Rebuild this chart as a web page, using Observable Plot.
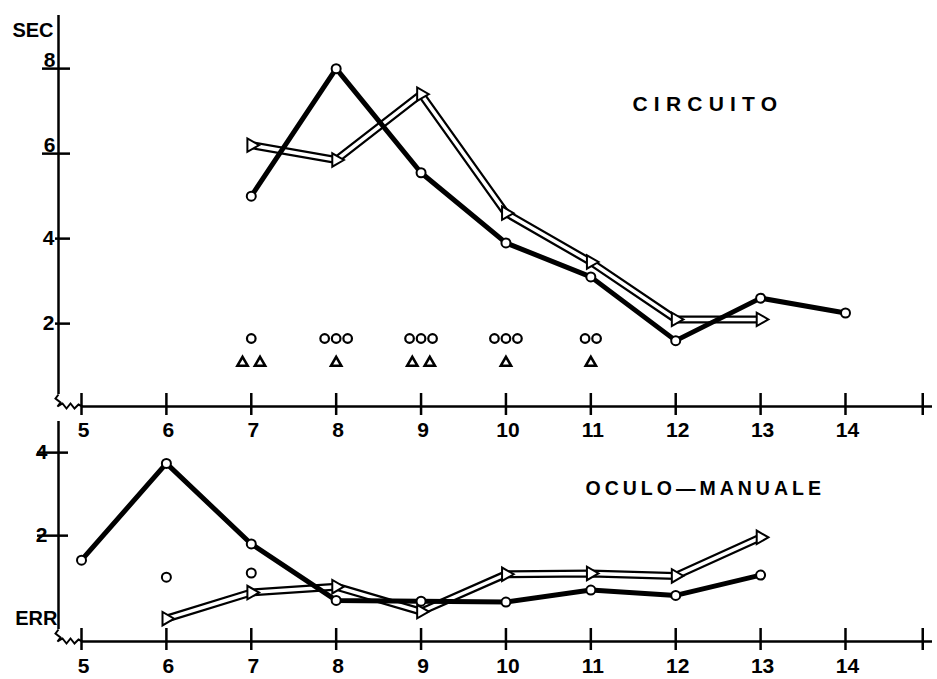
<!DOCTYPE html>
<html><head><meta charset="utf-8">
<script src="https://cdn.jsdelivr.net/npm/d3@7"></script>
<script src="https://cdn.jsdelivr.net/npm/@observablehq/plot@0.6"></script>
<style>
body{margin:0;background:#fff;}
#wrap{position:relative;width:937px;height:679px;font-family:"Liberation Sans",Arial,sans-serif;}
#top,#bottom{position:absolute;left:0;}
#top{top:0;} #bottom{top:415px;}
</style></head><body><div id="wrap"><div id="top"></div><div id="bottom"></div></div>
<script>
// ---- data ----
const xLabels = [5,6,7,8,9,10,11,12,13,14];
const xEndTick = 14.91;
const xDomain = [4.729, 15.025];

const secTicksLong = [6,8];
const secTicksShort = [2,4];
const secDomain = [0.05, 9.25];
const errTicks = [2,4];
const errDomain = [-0.55, 4.75];

// CIRCUITO (SEC)
const circAgesA = [7,8,9,10,11,12,13,14];
const circValuesA = [5.0,8.0,5.55,3.9,3.1,1.6,2.6,2.25];
const circAgesB = [7,8,9,10,11,12,13];
const circValuesB = [6.2,5.85,7.4,4.6,3.45,2.1,2.1];
const outlierAges = [7,8,9,10,11];
const outlierCircleCounts = [1,3,3,3,2];
const outlierTriangleCounts = [2,1,2,1,1];
const outlierCircleLevel = 1.65;
const outlierTriangleLevel = 1.08;

// OCULO-MANUALE (ERR)
const ocAgesA = [5,6,7,8,9,10,11,12,13];
const ocValuesA = [1.41,3.74,1.8,0.44,0.42,0.4,0.69,0.56,1.05];
const ocAgesB = [6,7,8,9,10,11,12,13];
const ocValuesB = [0.0,0.63,0.77,0.17,1.07,1.09,1.03,1.96];
const ocSingleAges = [6,7];
const ocSingleValues = [1.0,1.1];

// ---- build ----
const W = 937;
const mL = 58, mR = 5;
const pxPerX = (W - mL - mR) / (xDomain[1] - xDomain[0]);
const zip = (xs, ys) => xs.map((x, i) => ({x, y: ys[i]}));
function spread(ages, counts, level, px) {
  const out = [];
  ages.forEach((a, j) => {
    const n = counts[j];
    for (let i = 0; i < n; i++) out.push({x: a + (i - (n - 1) / 2) * px / pxPerX, y: level});
  });
  return out;
}
const breakMark = {draw(ctx) {
  ctx.moveTo(0, -12); ctx.lineTo(-3, -8); ctx.lineTo(2, -4); ctx.lineTo(-1, 0);
  ctx.lineTo(4, -3); ctx.lineTo(8, 2); ctx.lineTo(12, -3); ctx.lineTo(16, 2); ctx.lineTo(20, -2); ctx.lineTo(24, 0);
}};
const font = {fontSize: 21, fontWeight: "bold"};
const style = {fontFamily: '"Liberation Sans", Arial, sans-serif', fontWeight: "bold", fontSize: "21px", background: "transparent", overflow: "visible", color: "black"};

function frameMarks(yDom, pad) {
  return [
    Plot.ruleX([xDomain[0]], {stroke: "black", strokeWidth: 2.5, insetBottom: 12}),
    Plot.ruleY([yDom[0]], {x1: xLabels[0], x2: xDomain[1], stroke: "black", strokeWidth: 2.5}),
    Plot.dot([{x: xDomain[0], y: yDom[0]}], {x: "x", y: "y", symbol: breakMark, fill: "none", stroke: "black", strokeWidth: 2}),
    Plot.axisX([...xLabels, xEndTick], {tickSize: 22, dy: -13, strokeWidth: 2.5, tickFormat: () => "", label: null}),
    Plot.axisX(xLabels, {tickSize: 0, tickPadding: pad, dx: 2, ...font, label: null})
  ];
}
function seriesB(data) {
  return [
    Plot.line(data, {x: "x", y: "y", stroke: "black", strokeWidth: 8, strokeLinejoin: "miter"}),
    Plot.line(data, {x: "x", y: "y", stroke: "white", strokeWidth: 3.5, strokeLinejoin: "miter"}),
    Plot.dot(data, {x: "x", y: "y", symbol: "triangle", rotate: 90, r: 5, fill: "white", stroke: "black", strokeWidth: 2})
  ];
}
function seriesA(data) {
  return [
    Plot.line(data, {x: "x", y: "y", stroke: "black", strokeWidth: 5}),
    Plot.dot(data, {x: "x", y: "y", r: 4.5, fill: "white", stroke: "black", strokeWidth: 2})
  ];
}

const topPlot = Plot.plot({
  width: W, height: 440, marginLeft: mL, marginRight: mR, marginTop: 15, marginBottom: 34,
  style,
  x: {domain: xDomain, label: null},
  y: {domain: secDomain, label: null},
  marks: [
    ...frameMarks(secDomain, 16),
    Plot.axisY(secTicksLong, {tickSize: 28, dx: 12, strokeWidth: 2.5, tickFormat: () => "", label: null}),
    Plot.axisY(secTicksShort, {tickSize: 15, dx: 12, strokeWidth: 2.5, tickFormat: () => "", label: null}),
    Plot.axisY(secTicksLong, {tickSize: 0, tickPadding: 3, dy: -8, ...font, label: null}),
    Plot.axisY(secTicksShort, {tickSize: 0, tickPadding: 4, ...font, label: null}),
    Plot.text(["SEC"], {frameAnchor: "top-left", dx: -5, dy: 7, textAnchor: "end", fontSize: 20, fontWeight: "bold"}),
    Plot.text(["CIRCUITO"], {frameAnchor: "top-left", dx: 574, dy: 81, textAnchor: "start", fontSize: 21, fontWeight: "bold"}),
    ...seriesB(zip(circAgesB, circValuesB)),
    ...seriesA(zip(circAgesA, circValuesA)),
    Plot.dot(spread(outlierAges, outlierCircleCounts, outlierCircleLevel, 11.5), {x: "x", y: "y", r: 4.3, fill: "white", stroke: "black", strokeWidth: 2.2}),
    Plot.dot(spread(outlierAges, outlierTriangleCounts, outlierTriangleLevel, 17.5), {x: "x", y: "y", symbol: "triangle", r: 3.8, fill: "white", stroke: "black", strokeWidth: 2.6})
  ]
});

const bottomPlot = Plot.plot({
  width: W, height: 264, marginLeft: mL, marginRight: mR, marginTop: 6, marginBottom: 38,
  style,
  x: {domain: xDomain, label: null},
  y: {domain: errDomain, label: null},
  marks: [
    ...frameMarks(errDomain, 17),
    Plot.axisY(errTicks, {tickSize: 31, dx: 10, strokeWidth: 2.5, tickFormat: () => "", label: null}),
    Plot.axisY(errTicks, {tickSize: 0, tickPadding: 11, ...font, label: null}),
    Plot.text(["ERR"], {x: () => xDomain[0], y: () => 0, dx: -1, textAnchor: "end", fontSize: 20, fontWeight: "bold"}),
    Plot.text(["OCULO\u2014MANUALE"], {frameAnchor: "top-left", dx: 527, dy: 60, textAnchor: "start", fontSize: 19.5, fontWeight: "bold"}),
    ...seriesB(zip(ocAgesB, ocValuesB)),
    ...seriesA(zip(ocAgesA, ocValuesA)),
    Plot.dot(zip(ocSingleAges, ocSingleValues), {x: "x", y: "y", r: 4.5, fill: "white", stroke: "black", strokeWidth: 2})
  ]
});

document.getElementById("top").append(topPlot);
document.getElementById("bottom").append(bottomPlot);
d3.selectAll("svg text").filter(function() {
  const t = this.textContent; return t === "CIRCUITO" || t === "OCULO\u2014MANUALE";
}).attr("letter-spacing", function() { return this.textContent === "CIRCUITO" ? "6.2px" : "4px"; });
</script></body></html>
